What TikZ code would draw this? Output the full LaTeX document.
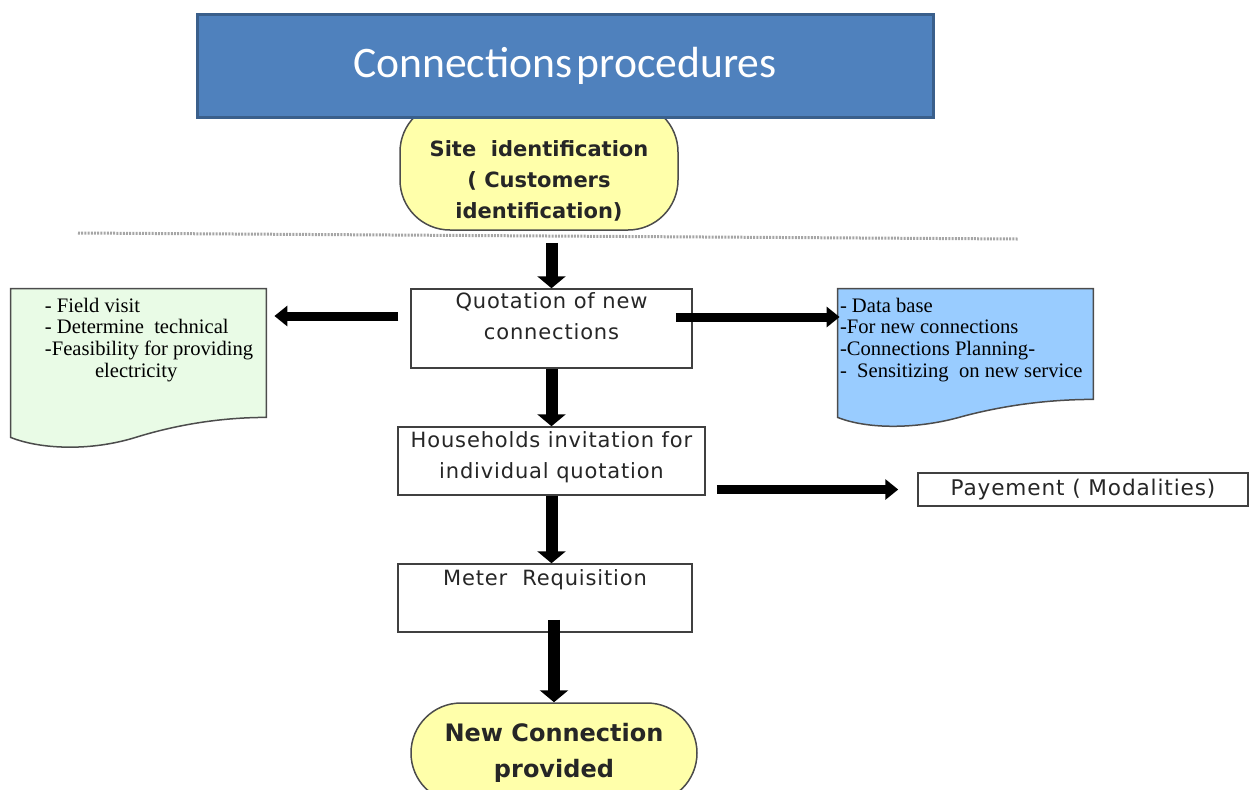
\documentclass[tikz,border=0pt]{standalone}
\usepackage{fontspec}
\setmainfont{DejaVu Sans}
\newfontfamily\carlf{Carlito}
\newfontfamily\tmsf{Liberation Serif}
\newfontfamily\dvls[LetterSpace=4]{DejaVu Sans}
\usetikzlibrary{arrows.meta,calc}
\definecolor{titlefill}{HTML}{4F81BD}
\definecolor{titledraw}{HTML}{3A5F8B}
\definecolor{yell}{HTML}{FFFFAA}
\definecolor{greendoc}{HTML}{E9FBE6}
\definecolor{bluedoc}{HTML}{99CCFF}
\begin{document}
\begin{tikzpicture}[x=0.5pt,y=-0.5pt,
  box/.style={draw=black!75, line width=0.75pt, fill=white, inner sep=0pt},
  stadium/.style={draw=black!70, line width=0.75pt, fill=yell, rounded corners=25pt, inner sep=0pt},
  boxtxt/.style={font=\dvls\fontsize{10.5}{15.5}\selectfont, align=center, inner sep=0pt, text=black!85},
  doctxt/.style={font=\tmsf\fontsize{10.3}{10.8}\selectfont, align=left, inner sep=0pt, anchor=north west},
  docshape/.style={draw=black!70, line width=0.75pt},
  varr/.style={line width=6pt, -{Triangle[width=14pt,length=6pt]}},
  harr/.style={line width=4.5pt, -{Triangle[width=10pt,length=6.5pt]}},
]
\useasboundingbox (0,0) rectangle (1250,789);
\clip (0,0) rectangle (1250,789);

% site identification
\node[stadium, minimum width=139pt, minimum height=64pt] (site) at (539,166) {};
\node[boxtxt, font=\bfseries\fontsize{10.5}{15.5}\selectfont] (sitet) at (539,181)
  {Site\ \ identification\\( Customers\\identification)};

% title
\node[draw=titledraw, line width=1.5pt, fill=titlefill, minimum width=368pt, minimum height=51.5pt,
  text=white, font=\carlf\fontsize{21.8}{26}\selectfont] (title) at (565,65.5) {Connections\hspace{0.1em}procedures};

% dotted separator
\draw[gray!70, line width=1.5pt, dash pattern=on 1pt off 0.6pt] (78,233) -- (1018,239);

% main boxes
\node[box, minimum width=140.5pt, minimum height=39.5pt] (q) at (551.5,328.5) {};
\node[boxtxt, anchor=north] (qt) at ([yshift=-2pt]q.north) {Quotation of new\\connections};

\node[box, minimum width=153.5pt, minimum height=34pt] (hh) at (551.5,461) {};
\node[boxtxt, anchor=north] (hht) at ([yshift=-2.3pt]hh.north) {Households invitation for\\individual quotation};

\node[box, minimum width=147pt, minimum height=34pt] (m) at (545,598) {};
\node[boxtxt, anchor=north] (mt) at ([yshift=-2.8pt]m.north) {Meter\ \ Requisition};

\node[stadium, minimum width=143pt, minimum height=50pt] (nc) at (554,753) {};
\node[boxtxt, font=\bfseries\fontsize{12}{18}\selectfont] (nct) at (nc.center) {New Connection\\provided};

\node[box, minimum width=165pt, minimum height=16.5pt, font=\dvls\fontsize{10.8}{12}\selectfont, text=black!85]
  (pay) at (1083,489.5) {Payement ( Modalities)};

% left document
\node[inner sep=0pt, minimum width=127.5pt, minimum height=64pt] (ld) at (138.5,353) {};
\draw[docshape, fill=greendoc] (ld.south east) -- (ld.north east) -- (ld.north west)
  -- ($(ld.south west)+(0,20)$)
  .. controls ($(ld.south west)+(30,32)$) and ($(ld.south west)+(80,34)$) .. ($(ld.south west)+(125,20)$)
  .. controls ($(ld.south west)+(170,6)$) and ($(ld.south west)+(215,0)$) .. (ld.south east) -- cycle;
\node[doctxt] (ldt) at ($(ld.north west)+(34,9)$)
  {- Field visit\\ - Determine\ \ technical\\-Feasibility for providing\\\hspace*{25pt}electricity};

% right document
\node[inner sep=0pt, minimum width=127.5pt, minimum height=55pt] (rd) at (965.5,344) {};
\draw[docshape, fill=bluedoc] (rd.south east) -- (rd.north east) -- (rd.north west)
  -- ($(rd.south west)+(0,18)$)
  .. controls ($(rd.south west)+(30,30)$) and ($(rd.south west)+(80,30)$) .. ($(rd.south west)+(125,17)$)
  .. controls ($(rd.south west)+(170,5)$) and ($(rd.south west)+(215,0)$) .. (rd.south east) -- cycle;
\node[doctxt] (rdt) at ($(rd.north west)+(2,9)$)
  {- Data base\\-For new connections\\-Connections Planning-\\-\ \ Sensitizing\ \ on new service};

% connectors
\draw[varr, shorten <=6pt] (site.south -| q.north) -- (q.north);
\draw[varr] (q.south) -- (q.south |- hh.north);
\draw[varr] (hh.south) -- (hh.south |- m.north);
\draw[varr] ([yshift=6.5pt]m.south -| nc.north) -- (nc.north);
\draw[harr, shorten <=6pt, shorten >=4pt] ([yshift=6.25pt]q.west) -- ([yshift=6.25pt]q.west -| ld.east);
\draw[harr, shorten <=-8.5pt, shorten >=-1pt] ([yshift=5.75pt]q.east) -- ([yshift=5.75pt]q.east -| rd.west);
\draw[harr, shorten <=5.5pt, shorten >=9.5pt] (hh.east |- pay.west) -- (pay.west);
\end{tikzpicture}
\end{document}
